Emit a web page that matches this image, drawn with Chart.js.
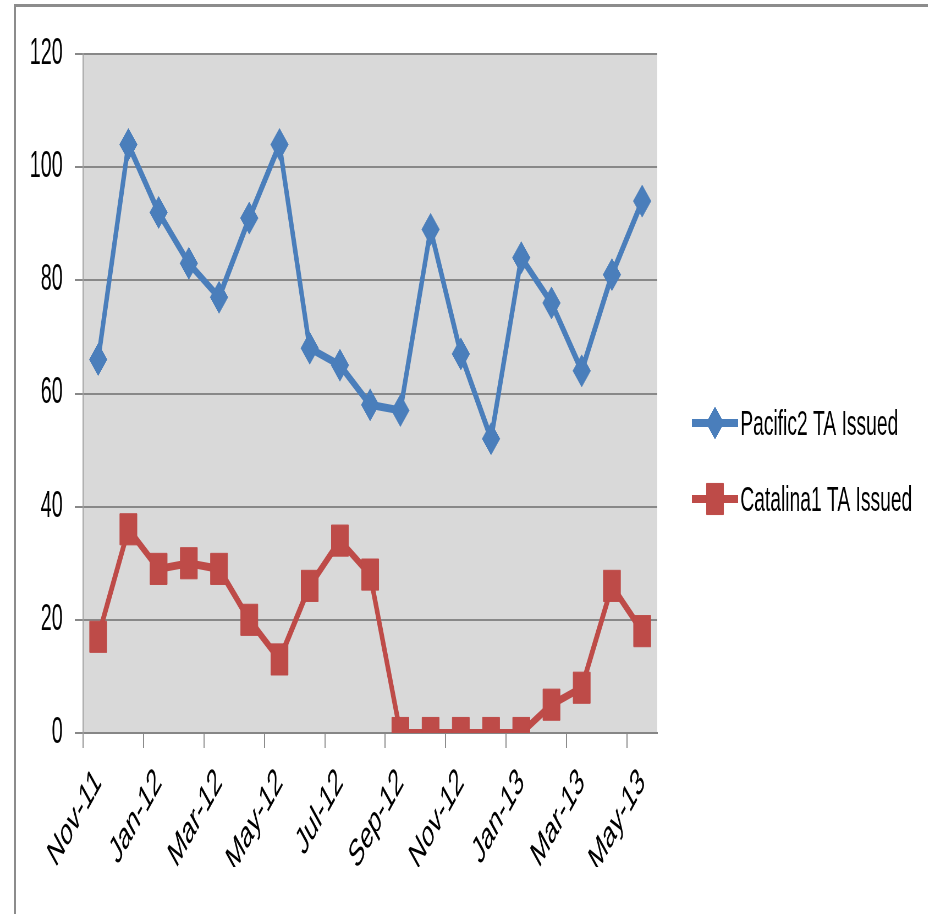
<!DOCTYPE html>
<html>
<head>
<meta charset="utf-8">
<script src="https://cdn.jsdelivr.net/npm/chart.js@4/dist/chart.umd.min.js"></script>
<style>
  html, body { margin: 0; padding: 0; background: #fff; overflow: hidden; width: 928px; height: 914px; }
  #frame { position: absolute; left: 14px; top: 4px; width: 930px; height: 920px;
           border-top: 3px solid #8c8c8c; border-left: 2px solid #8c8c8c; }
  /* the chart is laid out wide and then narrowed horizontally */
  #stage { position: absolute; left: 0; top: 0; width: 1687px; height: 914px;
           transform: scaleX(0.55); transform-origin: 0 0; }
</style>
</head>
<body>
<div id="frame"></div>
<div id="stage"><canvas id="c" width="1687" height="914"></canvas></div>
<script>
// Monthly counts of TA issued
const months = ['Nov-11','Dec-11','Jan-12','Feb-12','Mar-12','Apr-12','May-12','Jun-12','Jul-12','Aug-12',
                'Sep-12','Oct-12','Nov-12','Dec-12','Jan-13','Feb-13','Mar-13','Apr-13','May-13'];
const pacific2 = [66, 104, 92, 83, 77, 91, 104, 68, 65, 58, 57, 89, 67, 52, 84, 76, 64, 81, 94];
const catalina1 = [17, 36, 29, 30, 29, 20, 13, 26, 34, 28, 0, 0, 0, 0, 0, 5, 8, 26, 18];
const seriesNames = ['Pacific2 TA Issued', 'Catalina1 TA Issued'];
const yMin = 0, yMax = 120, yStep = 20;

const BLUE = '#4a7ebb';
const RED = '#be4b48';
const FONT = 'Liberation Sans';

// fills the plotting area grey
const plotBg = {
  id: 'plotBg',
  beforeDraw(chart) {
    const { ctx, chartArea: a } = chart;
    ctx.save();
    ctx.fillStyle = '#d9d9d9';
    ctx.fillRect(a.left, a.top, a.right - a.left, a.bottom - a.top);
    ctx.restore();
  }
};

// legend to the right of the plot: line segment with the series marker, then the name
const lineLegend = {
  id: 'lineLegend',
  afterDraw(chart) {
    const { ctx, chartArea: a } = chart;
    const x0 = a.right + 63;       // start of the key line
    const keyLen = 84;
    const rows = [423, 499];
    ctx.save();
    chart.data.datasets.forEach((ds, i) => {
      const y = rows[i];
      ctx.strokeStyle = ds.borderColor;
      ctx.lineWidth = 8;
      ctx.beginPath(); ctx.moveTo(x0, y); ctx.lineTo(x0 + keyLen, y); ctx.stroke();
      ctx.fillStyle = ds.backgroundColor;
      ctx.lineWidth = ds.pointBorderWidth;
      Chart.helpers.drawPoint(ctx, { pointStyle: ds.pointStyle, radius: ds.pointRadius, rotation: 0,
                                     borderWidth: ds.pointBorderWidth }, x0 + keyLen / 2, y);
      ctx.fillStyle = '#000';
      ctx.font = '35px "' + FONT + '"';
      ctx.textAlign = 'left';
      ctx.textBaseline = 'alphabetic';
      ctx.fillText(ds.label, x0 + keyLen + 4, y + 12);
    });
    ctx.restore();
  }
};

new Chart(document.getElementById('c'), {
  type: 'line',
  data: {
    labels: months,
    datasets: [
      { label: seriesNames[0], data: pacific2, borderColor: BLUE, backgroundColor: BLUE,
        borderWidth: 8, pointStyle: 'rectRot', pointRadius: 16, pointBorderWidth: 1, tension: 0 },
      { label: seriesNames[1], data: catalina1, borderColor: RED, backgroundColor: RED,
        borderWidth: 8, pointStyle: 'rect', pointRadius: 22, pointBorderWidth: 1, tension: 0 }
    ]
  },
  options: {
    responsive: false,
    animation: false,
    devicePixelRatio: 1,
    layout: { padding: { left: 20, top: 54, right: 492, bottom: 47 } },
    plugins: {
      tooltip: { enabled: false },
      legend: { display: false }
    },
    scales: {
      x: {
        type: 'category',
        offset: true,
        grid: {
          offset: true,
          drawOnChartArea: false,
          drawTicks: true,
          tickLength: 15,
          lineWidth: 2,
          tickColor: (ctx) => (ctx.index % 2 === 0 ? '#8c8c8c' : 'rgba(0,0,0,0)')
        },
        border: { display: true, color: '#868686', width: 2 },
        ticks: {
          autoSkip: false,
          minRotation: 45,
          maxRotation: 45,
          padding: 12,
          color: '#000',
          font: { family: FONT, size: 38 },
          callback(v, i) { return i % 2 === 0 ? this.getLabelForValue(v) : ''; }
        },
        afterFit(s) { s.height = 134; }
      },
      y: {
        min: yMin,
        max: yMax,
        grid: { color: '#888888', lineWidth: 2, drawTicks: true, tickLength: 15, tickColor: '#888888' },
        border: { display: true, color: '#a0a0a0', width: 2 },
        ticks: {
          stepSize: yStep,
          padding: 22,
          color: '#000',
          font: { family: FONT, size: 36 }
        },
        afterFit(s) { s.width = 131; }
      }
    }
  },
  plugins: [plotBg, lineLegend]
});
</script>
</body>
</html>
